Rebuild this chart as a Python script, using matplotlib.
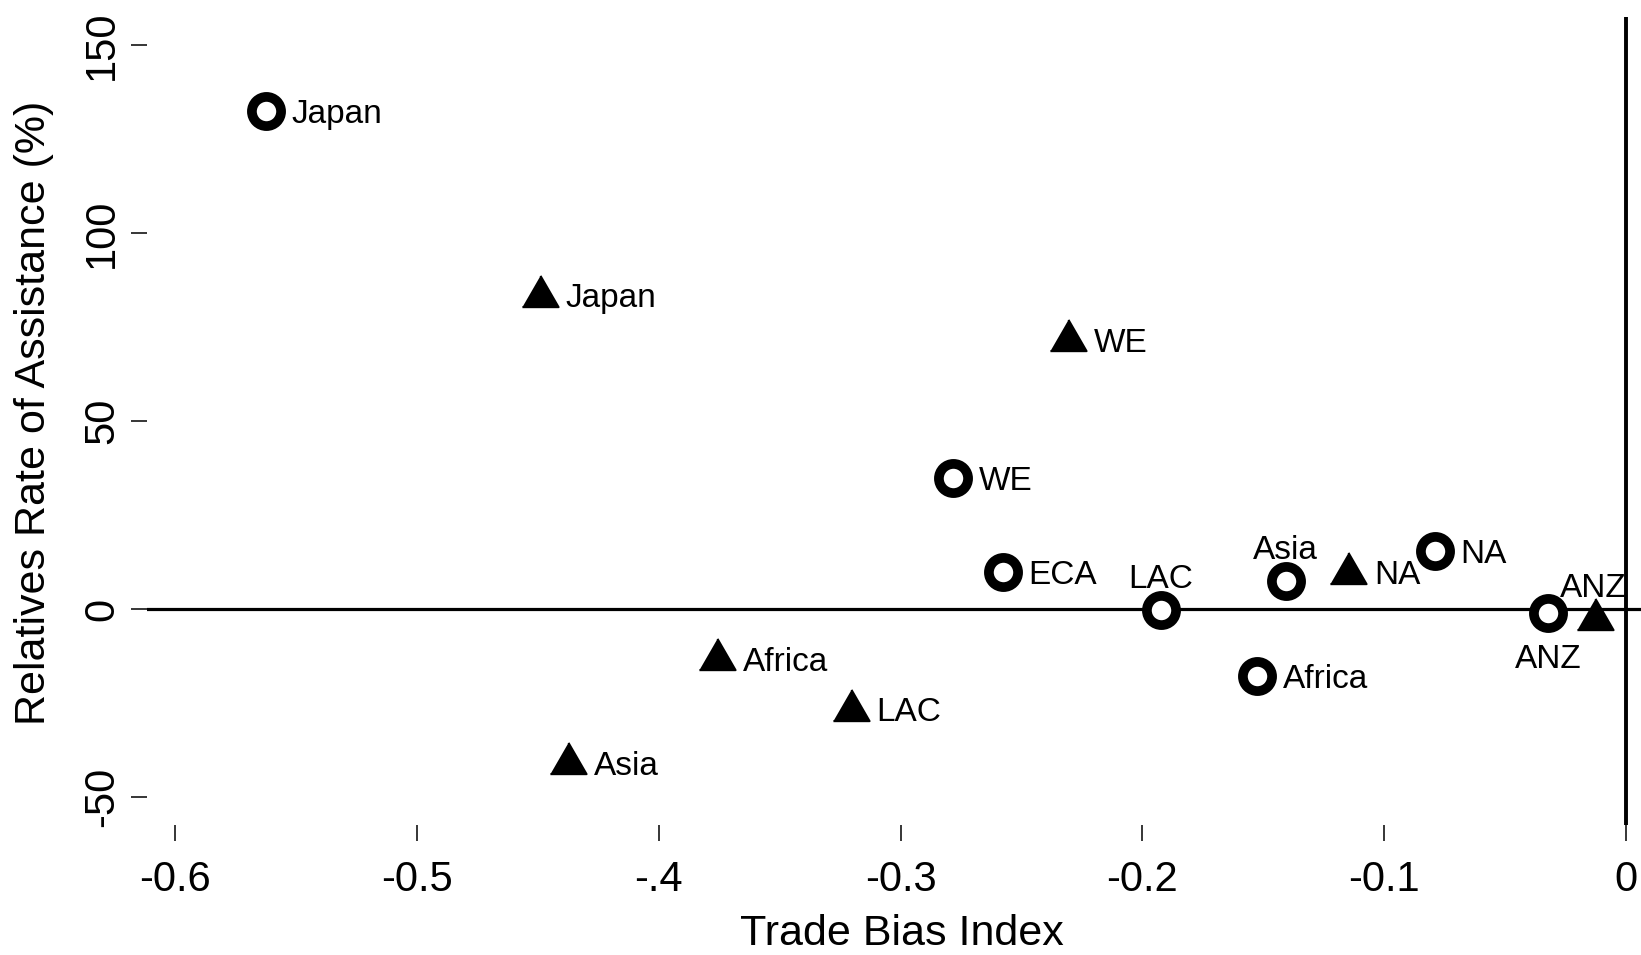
import numpy as np
import matplotlib
matplotlib.use("Agg")
import matplotlib.pyplot as plt
from matplotlib.markers import MarkerStyle

plt.rcParams['font.family'] = ['Liberation Sans', 'DejaVu Sans']

# circles (hollow) series
circ_x = [-0.5626, -0.2782, -0.2578, -0.1923, -0.1407, -0.1525, -0.0790, -0.0321]
circ_y = [132.5, 34.8, 9.9, -0.3, 7.4, -17.8, 15.5, -1.1]
circ_lab = ['Japan', 'WE', 'ECA', 'LAC', 'Asia', 'Africa', 'NA', 'ANZ']

# triangles (filled) series
tri_x = [-0.4491, -0.2309, -0.3759, -0.3207, -0.4374, -0.1148, -0.0130]
tri_y = [84.6, 72.8, -12.0, -25.5, -39.7, 10.9, -1.25]
tri_lab = ['Japan', 'WE', 'Africa', 'LAC', 'Asia', 'NA', 'ANZ']

xticks = [-0.6, -0.5, -0.4, -0.3, -0.2, -0.1, 0]
xticklabels = ['-0.6', '-0.5', '-.4', '-0.3', '-0.2', '-0.1', '0']
yticks = [-50, 0, 50, 100, 150]
yticklabels = ['-50', '0', '50', '100', '150']

W, H = 1641, 955
fig = plt.figure(figsize=(W / 100, H / 100), dpi=100)
# plot region in pixels: left 147, right 1641, top 17, bottom 825
ax = fig.add_axes([147 / W, (H - 825) / H, (W - 147) / W, (825 - 17) / H])
ax.set_xlim(-0.6117, 0.0062)
ax.set_ylim(-57.4, 157.4)
for s in ax.spines.values():
    s.set_visible(False)

ax.axhline(0, color='black', lw=2.3, zorder=1)
ax.axvline(0, color='black', lw=2.8, zorder=1)

tri = MarkerStyle([(-1, -0.866), (1, -0.866), (0, 0.866)], joinstyle='round')
ax.plot(circ_x, circ_y, 'o', ms=21, mew=7, mfc='white', mec='black', ls='none', zorder=3)
ax.plot(tri_x, tri_y, ls='none', marker=tri, ms=26, mew=1.5, mfc='black', mec='black', zorder=3)

# where each label sits relative to its marker
circ_pos = {'LAC': 't', 'Asia': 't', 'ANZ': 'b'}
tri_pos = {'ANZ': 't'}
offs_c = {'r': (18.5, -8.6, 'left'), 't': (0, 16, 'center'), 'b': (0, -39.5, 'center')}
offs_t = {'r': (18.5, -11.8, 'left'), 't': (-1, 12, 'center')}

for x, y, lab in zip(circ_x, circ_y, circ_lab):
    dx, dy, ha = offs_c[circ_pos.get(lab, 'r')]
    ax.annotate(lab, (x, y), xytext=(dx, dy), textcoords='offset points',
                ha=ha, va='baseline', fontsize=24, zorder=4)
for x, y, lab in zip(tri_x, tri_y, tri_lab):
    dx, dy, ha = offs_t[tri_pos.get(lab, 'r')]
    ax.annotate(lab, (x, y), xytext=(dx, dy), textcoords='offset points',
                ha=ha, va='baseline', fontsize=24, zorder=4)

ax.set_xticks(xticks)
ax.set_xticklabels(xticklabels)
ax.set_yticks(yticks)
ax.set_yticklabels(yticklabels, rotation=90, va='center')
ax.tick_params(axis='both', direction='out', length=11.5, width=1.1, labelsize=30)
ax.tick_params(axis='x', pad=13.5)
ax.tick_params(axis='y', pad=6.5)

fig.text(902 / W, 1 / H, 'Trade Bias Index', ha='center', va='bottom', fontsize=31)
fig.text(34 / W, (H - 413) / H, 'Relatives Rate of Assistance (%)', rotation=90,
         ha='center', va='center', fontsize=31)

fig.savefig('out.png', dpi=100)
